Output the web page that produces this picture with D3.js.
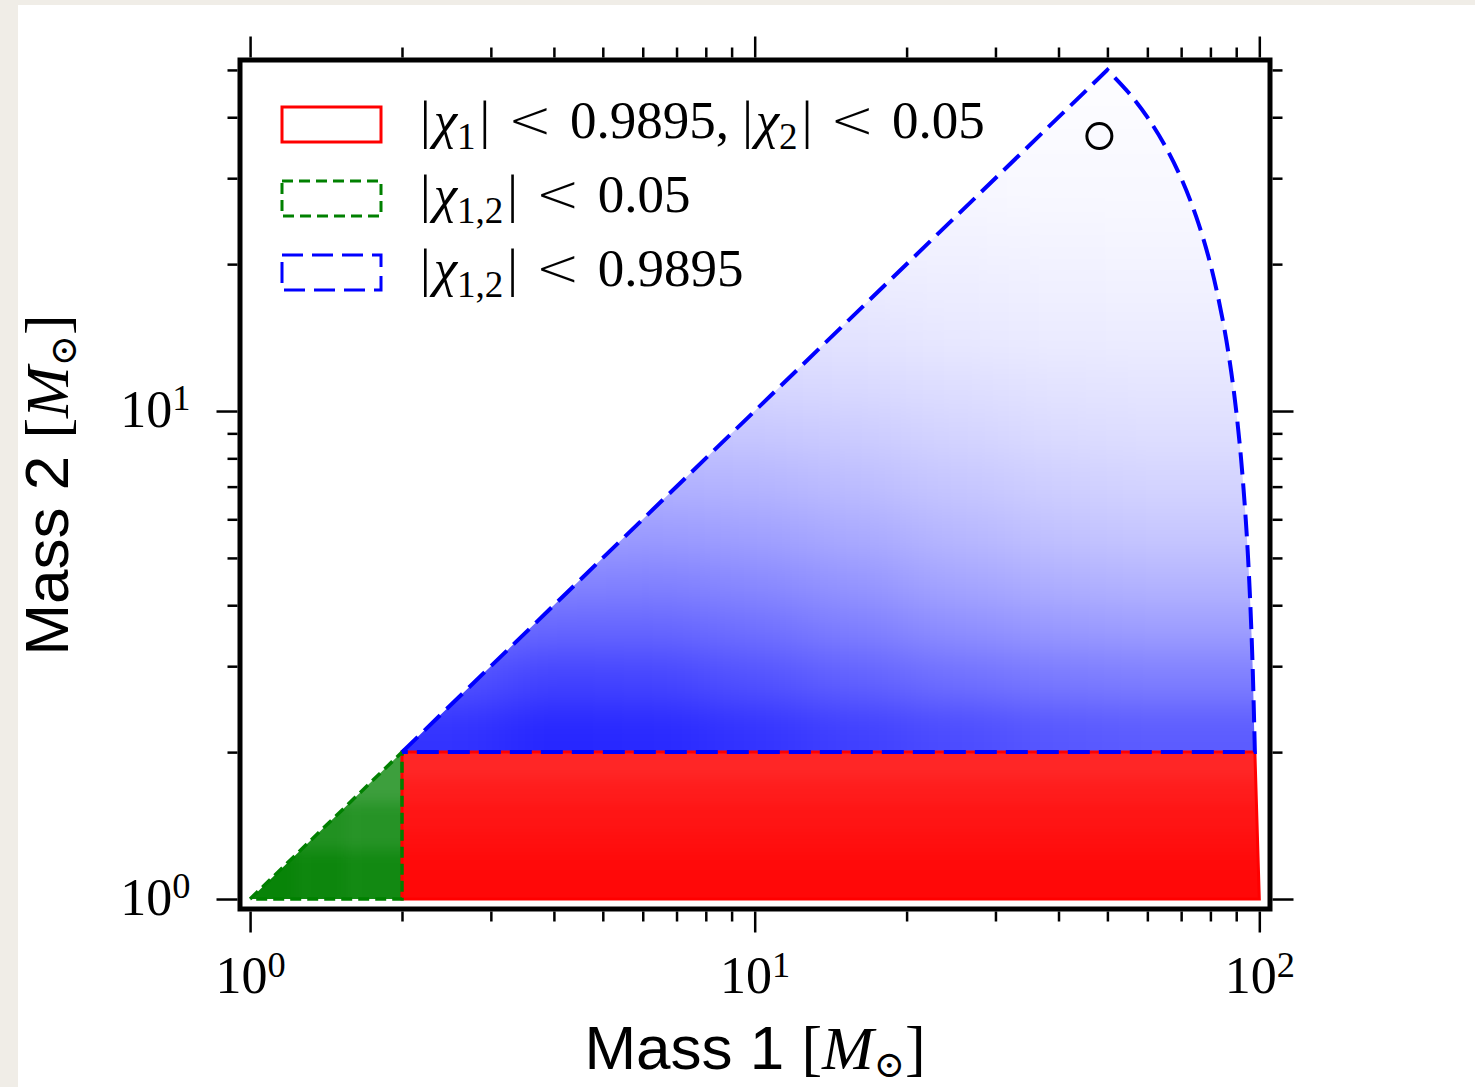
<!DOCTYPE html>
<meta charset="utf-8" />
<script src="https://d3js.org/d3.v7.min.js"></script>
<style>
  body { margin: 0; background: #f0ede7; }
  svg { display: block; }
</style>
<body>
<div id="chart"></div>
<script>
  // ticks (solar masses)
  const xMajor = [1, 10, 100];
  const xMinor = [2, 3, 4, 5, 6, 7, 8, 9, 20, 30, 40, 50, 60, 70, 80, 90];
  const yMajor = [1, 10];
  const yMinor = [2, 3, 4, 5, 6, 7, 8, 9, 20, 30, 40, 50];

  // region outlines [m1, m2]
  const greenOutline = [[1, 1], [2, 2], [2, 1], [1, 1]];
  const redOutline = [[2, 1], [2, 2], [98, 2], [100, 1], [2, 1]];
  const blueDiag = [[2, 2], [50, 50]];
  const blueArc = [[50, 50], [55, 45], [60, 40], [65, 35], [70, 30], [75, 25], [80, 20],
    [85, 15], [88, 12], [90, 10], [92, 8], [94, 6], [95, 5], [96, 4], [97, 3], [98, 2]];
  const blueBase = [[98, 2], [2, 2]];
  const eventPoint = [48.2, 36.6];

  // how thickly the scatter points cover each cell (0..1)
  const redM1Edges = [2, 100];
  const redM2Edges = [1, 1.12, 1.26, 1.41, 1.58, 1.78, 2];
  const redDensity = [[0.97], [0.96], [0.94], [0.92], [0.89], [0.85]];

  const greenM1Edges = [1, 1.26, 1.58, 2];
  const greenM2Edges = [1, 1.26, 1.58, 2];
  const greenDensity = [
    [0.97, 0.95, 0.93],
    [0.9, 0.87, 0.85],
    [0.82, 0.78, 0.76]
  ];

  const blueM1Edges = [2, 3.2, 5, 8, 12.5, 20, 32, 50, 100];
  const blueM2Edges = [2, 2.5, 3.2, 4, 5, 6.3, 8, 10, 12.5, 16, 20, 25, 32, 40, 56];
  const blueDensity = [
    [0.80, 0.85, 0.84, 0.80, 0.75, 0.70, 0.66, 0.64],
    [0.68, 0.74, 0.73, 0.68, 0.62, 0.56, 0.52, 0.50],
    [0.56, 0.60, 0.60, 0.56, 0.50, 0.44, 0.40, 0.38],
    [0.46, 0.48, 0.49, 0.46, 0.41, 0.35, 0.31, 0.29],
    [0.37, 0.38, 0.39, 0.37, 0.33, 0.28, 0.24, 0.22],
    [0.29, 0.29, 0.30, 0.29, 0.26, 0.22, 0.19, 0.17],
    [0.22, 0.22, 0.23, 0.22, 0.20, 0.17, 0.14, 0.13],
    [0.16, 0.16, 0.17, 0.16, 0.15, 0.13, 0.11, 0.10],
    [0.12, 0.12, 0.12, 0.12, 0.11, 0.09, 0.08, 0.075],
    [0.09, 0.09, 0.09, 0.085, 0.08, 0.07, 0.06, 0.055],
    [0.065, 0.065, 0.065, 0.06, 0.055, 0.05, 0.045, 0.04],
    [0.045, 0.045, 0.045, 0.04, 0.035, 0.03, 0.028, 0.028],
    [0.03, 0.03, 0.03, 0.028, 0.025, 0.022, 0.02, 0.02],
    [0.02, 0.02, 0.02, 0.018, 0.015, 0.012, 0.012, 0.012]
  ];

  // legend
  const legendLabels = [
    [["|"], ["χ", "i"], ["1", "sub"], ["|\u2004"], ["<", "rel"], ["\u20040.9895, |"], ["χ", "i"], ["2", "sub"], ["|\u2004"], ["<", "rel"], ["\u20040.05"]],
    [["|"], ["χ", "i"], ["1,2", "sub"], ["|\u2004"], ["<", "rel"], ["\u20040.05"]],
    [["|"], ["χ", "i"], ["1,2", "sub"], ["|\u2004"], ["<", "rel"], ["\u20040.9895"]]
  ];
  const legendColors = ["#ff0000", "#008000", "#0000ff"];
  const legendDash = [null, "11,6", "21,9"];

  const serif = "'Liberation Serif', serif";
  const sans = "'Liberation Sans', Arial, sans-serif";

  const svg = d3.select("#chart").append("svg")
    .attr("width", 1475).attr("height", 1087);
  const defs = svg.append("defs");

  svg.append("rect").attr("x", 18).attr("y", 5).attr("width", 1457).attr("height", 1082)
    .attr("fill", "#fff");

  const x = d3.scaleLog().domain([0.955, 105]).range([240, 1270]);
  const y = d3.scaleLog().domain([0.954, 52.4]).range([909, 60]);

  const line = d3.line().x(d => x(d[0])).y(d => y(d[1]));
  const arc = d3.line().x(d => x(d[0])).y(d => y(d[1])).curve(d3.curveCatmullRom);

  [["blurBig", "32 18"], ["blurSmall", "7"]].forEach(([id, s]) => {
    defs.append("filter").attr("id", id)
      .attr("x", "-20%").attr("y", "-20%").attr("width", "140%").attr("height", "140%")
      .append("feGaussianBlur").attr("stdDeviation", s);
  });

  const bluePoly = line(blueDiag) + arc(blueArc).replace(/^M/, "L") + "Z";

  function densityLayer(id, pathD, m1Edges, m2Edges, dens, color, blur) {
    defs.append("clipPath").attr("id", id).append("path").attr("d", pathD);
    const g = svg.append("g").attr("clip-path", `url(#${id})`)
      .append("g").attr("filter", `url(#${blur})`);
    const pad = 70;
    dens.forEach((row, i) => {
      row.forEach((v, j) => {
        let x0 = x(m1Edges[j]), x1 = x(m1Edges[j + 1]);
        let y0 = y(m2Edges[i + 1]), y1 = y(m2Edges[i]);
        if (j === 0) x0 -= pad;
        if (j === row.length - 1) x1 += pad;
        if (i === 0) y1 += pad;
        if (i === dens.length - 1) y0 -= pad;
        g.append("rect").attr("x", x0).attr("y", y0)
          .attr("width", x1 - x0).attr("height", y1 - y0)
          .attr("fill", color).attr("fill-opacity", v);
      });
    });
  }

  densityLayer("clipGreen", line(greenOutline) + "Z", greenM1Edges, greenM2Edges, greenDensity, "#008000", "blurSmall");
  densityLayer("clipRed", line(redOutline) + "Z", redM1Edges, redM2Edges, redDensity, "#ff0000", "blurSmall");
  densityLayer("clipBlue", bluePoly, blueM1Edges, blueM2Edges, blueDensity, "#0000ff", "blurBig");

  // outlines
  svg.append("path").attr("d", line(redOutline) + "Z")
    .attr("fill", "none").attr("stroke", "#ff0000").attr("stroke-width", 3);
  svg.append("path").attr("d", line(greenOutline))
    .attr("fill", "none").attr("stroke", "#008000").attr("stroke-width", 3.5)
    .attr("stroke-dasharray", "11,6");
  svg.append("path").attr("d", line(blueDiag) + arc(blueArc).replace(/^M/, "L") + line(blueBase).replace(/^M/, "L"))
    .attr("fill", "none").attr("stroke", "#0000ff").attr("stroke-width", 4)
    .attr("stroke-dasharray", "22,9");

  svg.append("circle").attr("cx", x(eventPoint[0])).attr("cy", y(eventPoint[1])).attr("r", 12.5)
    .attr("fill", "none").attr("stroke", "#000").attr("stroke-width", 3);

  // axes frame
  svg.append("rect").attr("x", 240).attr("y", 60).attr("width", 1030).attr("height", 849)
    .attr("fill", "none").attr("stroke", "#000").attr("stroke-width", 5);

  function tickAxis(axisFn, scale, values, size, tx, ty) {
    const g = svg.append("g").attr("transform", `translate(${tx},${ty})`)
      .call(axisFn(scale).tickValues(values).tickSize(size).tickFormat(""));
    g.select(".domain").remove();
    g.selectAll(".tick line").attr("stroke", "#000").attr("stroke-width", 2.5);
    return g;
  }

  const xb = tickAxis(d3.axisBottom, x, xMajor, 21, 0, 911.5);
  tickAxis(d3.axisBottom, x, xMinor, 10, 0, 911.5);
  tickAxis(d3.axisTop, x, xMajor, 21, 0, 57.5);
  tickAxis(d3.axisTop, x, xMinor, 10, 0, 57.5);
  const yl = tickAxis(d3.axisLeft, y, yMajor, 21, 237.5, 0);
  tickAxis(d3.axisLeft, y, yMinor, 10, 237.5, 0);
  tickAxis(d3.axisRight, y, yMajor, 21, 1272.5, 0);
  tickAxis(d3.axisRight, y, yMinor, 10, 1272.5, 0);

  function powLabel(sel) {
    sel.each(function (d) {
      const t = d3.select(this).text(null)
        .attr("fill", "#000").attr("font-family", serif).attr("font-size", 52);
      t.append("tspan").text("10");
      t.append("tspan").attr("dy", "-0.45em").attr("font-size", "0.7em")
        .text(Math.round(Math.log10(d)));
    });
  }
  xb.selectAll(".tick text").attr("y", 81.5).attr("dy", null).call(powLabel);
  yl.selectAll(".tick text").attr("x", -47).attr("dy", null).attr("y", 15).call(powLabel);

  // legend
  const legend = svg.append("g");
  legendLabels.forEach((segs, i) => {
    const cy = 124.5 + i * 74;
    legend.append("rect").attr("x", 282).attr("y", cy - 17.5).attr("width", 99).attr("height", 35)
      .attr("fill", "none").attr("stroke", legendColors[i]).attr("stroke-width", 3)
      .attr("stroke-dasharray", legendDash[i]);
    const t = legend.append("text").attr("x", 420).attr("y", cy + 13)
      .attr("font-family", serif).attr("font-size", 53).attr("fill", "#000")
      .attr("xml:space", "preserve");
    let shifted = false;
    segs.forEach(([s, kind]) => {
      const sp = t.append("tspan").text(s);
      if (kind === "i") sp.attr("font-style", "italic").attr("dx", 3);
      if (kind === "rel") sp.attr("font-family", "'DejaVu Sans', sans-serif").attr("font-weight", 300);
      if (kind === "sub") { sp.attr("font-size", "0.7em").attr("dy", "0.32em"); shifted = true; }
      else if (shifted) { sp.attr("dy", "-0.224em").attr("dx", 4); shifted = false; }
    });
  });

  // axis titles
  function massLabel(t, n) {
    t.attr("font-family", sans).attr("font-size", 62).attr("fill", "#000")
      .attr("text-anchor", "middle");
    t.append("tspan").text("Mass " + n + " ");
    t.append("tspan").attr("font-family", serif).text("[");
    t.append("tspan").attr("font-family", serif).attr("font-style", "italic").text("M");
    t.append("tspan").attr("font-family", "'DejaVu Serif', serif").attr("font-size", "0.6em")
      .attr("dy", "0.22em").text("⊙");
    t.append("tspan").attr("font-family", serif).attr("dy", "-0.132em").text("]");
  }
  massLabel(svg.append("text").attr("x", 755).attr("y", 1069), 1);
  massLabel(svg.append("text").attr("transform", "translate(68,485) rotate(-90)"), 2);
</script>
</body>
